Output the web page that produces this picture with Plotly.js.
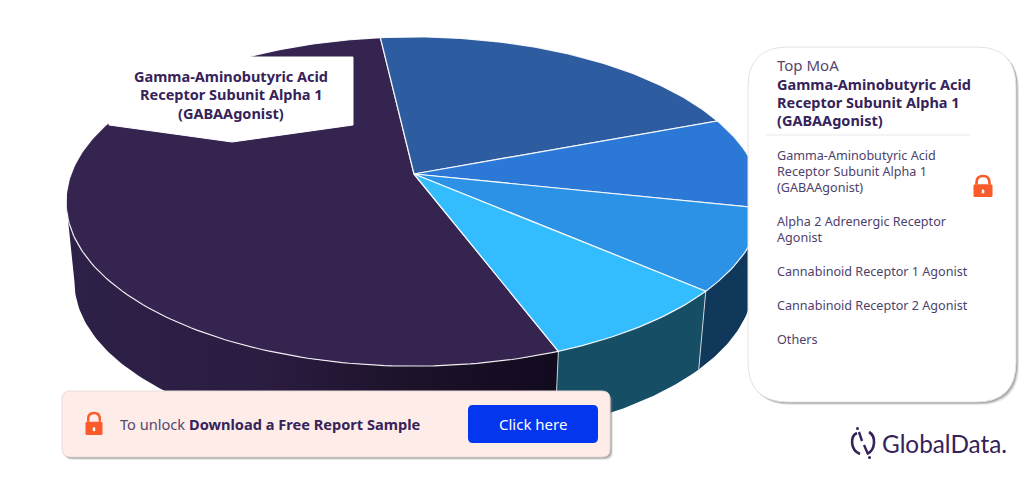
<!DOCTYPE html>
<html>
<head>
<meta charset="utf-8">
<script src="https://cdn.plot.ly/plotly-3.0.1.min.js"></script>
<style>html,body{margin:0;padding:0;background:#fff;overflow:hidden}#chart{width:1024px;height:493px}</style>
</head>
<body>
<div id="chart"></div>
<script>
// ---- data ----
const categories = ["Gamma-Aminobutyric Acid Receptor Subunit Alpha 1 (GABAAgonist)", "Alpha 2 Adrenergic Receptor Agonist", "Cannabinoid Receptor 1 Agonist", "Cannabinoid Receptor 2 Agonist", "Others"];
const shares = [53.9, 21.1, 9.0, 8.0, 7.9];
const topColors = ["#352350", "#2e5ca0", "#2c78d6", "#2c92e6", "#33bdff"];
const sideColors = ["#2a1c40", "#1c3358", "#173f78", "#10385a", "#164e66"];
const calloutLines = ["Gamma-Aminobutyric Acid", "Receptor Subunit Alpha 1", "(GABAAgonist)"];
const legendLines = [
  ["Gamma-Aminobutyric Acid", "Receptor Subunit Alpha 1", "(GABAAgonist)"],
  ["Alpha 2 Adrenergic Receptor", "Agonist"],
  ["Cannabinoid Receptor 1 Agonist"],
  ["Cannabinoid Receptor 2 Agonist"],
  ["Others"]
];
const panelTitle = "Top MoA";

// ---- projection of the tilted disc ----
const DEG = Math.PI / 180;
const startAngle = 159.2, cx = 414, cyTop = 174, cyBottom = 255, a = 343, b = 160, k = 0.1672, ringScale = 0.976;
function project(deg, bottom) {
  const c = Math.cos(deg * DEG), s = Math.sin(deg * DEG), p = 1 / (1 + k * c);
  return bottom
    ? [cx + a * ringScale * s * p, cyBottom - b * ringScale * c * p]
    : [cx + a * s * p, cyTop - b * c * p];
}
function arc(from, to, bottom) {
  const pts = [], n = Math.max(2, Math.ceil(Math.abs(to - from)));
  for (let i = 0; i <= n; i++) pts.push(project(from + (to - from) * i / n, bottom));
  return pts;
}

const total = shares.reduce((p, v) => p + v, 0);
let running = startAngle;
const slices = categories.map((name, i) => {
  const from = running, to = running + shares[i] / total * 360;
  running = to;
  return { name, from, to, i };
});

const traces = [];
// Walls are drawn first; the disc tops then cover everything behind them
const wallEndLimit = 260.4;
slices.forEach(sl => {
  const wrap = sl.from >= 360 ? 360 : 0;
  const from = sl.from - wrap, to = Math.min(sl.to - wrap, wallEndLimit);
  if (to <= from) return;
  const pts = arc(from, to, false).concat(arc(to, from, true));
  const t = {
    x: pts.map(p => p[0]), y: pts.map(p => p[1]), mode: "lines", fill: "toself",
    line: { width: 0, color: sideColors[sl.i] }, fillcolor: sideColors[sl.i],
    hoverinfo: "skip", showlegend: false, name: sl.name + " side"
  };
  if (sl.i === 0) {
    t.fillgradient = { type: "horizontal", colorscale: [[0, "#2e2147"], [0.4, "#2b1c41"], [0.7, "#1c1229"], [1, "#120a1f"]] };
    delete t.fillcolor;
  }
  traces.push(t);
});
// Seams between the walls
[slices[0].from, slices[4].from - 360].forEach(angle => {
  const top = project(angle, false), bot = project(angle, true);
  traces.push({
    x: [top[0], bot[0]], y: [top[1], bot[1]], mode: "lines",
    line: { color: "rgba(225,228,232,0.85)", width: 1 }, hoverinfo: "skip", showlegend: false
  });
});
// Disc tops
slices.forEach(sl => {
  const pts = [[cx, cyTop]].concat(arc(sl.from, sl.to, false), [[cx, cyTop]]);
  traces.push({
    x: pts.map(p => p[0]), y: pts.map(p => p[1]), mode: "lines", fill: "toself",
    fillcolor: topColors[sl.i], line: { color: "rgba(255,255,255,0.9)", width: 1.2 },
    hoverinfo: "skip", showlegend: false, name: sl.name
  });
});

// ---- furniture ----
function rr(x0, y0, x1, y1, r) {
  return `M${x0 + r},${y0} L${x1 - r},${y0} Q${x1},${y0} ${x1},${y0 + r} L${x1},${y1 - r} Q${x1},${y1} ${x1 - r},${y1} L${x0 + r},${y1} Q${x0},${y1} ${x0},${y1 - r} L${x0},${y0 + r} Q${x0},${y0} ${x0 + r},${y0} Z`;
}
function boxShape(path, fill, line, width) {
  return { type: "path", xref: "x", yref: "y", layer: "above", path, fillcolor: fill, line: { color: line || fill, width: width === undefined ? 0 : width } };
}
function shadow(x0, y0, x1, y1, r) {
  return [
    boxShape(rr(x0 + 3, y0 + 3, x1 + 3, y1 + 3, r), "rgba(120,120,120,0.18)"),
    boxShape(rr(x0 + 2, y0 + 2, x1 + 2, y1 + 2, r), "rgba(120,120,120,0.35)"),
    boxShape(rr(x0 + 1, y0 + 1, x1 + 1, y1 + 1, r), "rgba(120,120,120,0.45)")
  ];
}
function lock(mx, top, w, h) {
  const hw = w / 2, bodyTop = top + h * 0.42, bottom = top + h, archR = hw * 0.68;
  return [
    { type: "path", xref: "x", yref: "y", layer: "above", line: { color: "#f95b2b", width: w * 0.14 },
      path: `M${mx - archR},${bodyTop} L${mx - archR},${top + archR + 1} Q${mx - archR},${top + 1} ${mx},${top + 1} Q${mx + archR},${top + 1} ${mx + archR},${top + archR + 1} L${mx + archR},${bodyTop}` },
    boxShape(rr(mx - hw, bodyTop, mx + hw, bottom, 1.5), "#f95b2b"),
    boxShape(rr(mx - 1.3, bodyTop + h * 0.24, mx + 1.3, bodyTop + h * 0.42, 1.2), "#ffffff")
  ];
}
const ink = "#35235a";
const shapes = [
  ...shadow(748, 47, 1016, 402, 40),
  boxShape(rr(748, 47, 1016, 402, 40), "#ffffff", "#e2e2e2", 1),
  { type: "line", xref: "x", yref: "y", layer: "above", x0: 766, x1: 970, y0: 135, y1: 135, line: { color: "#e9e9e9", width: 1 } },
  ...lock(983, 175, 19, 22),
  ...shadow(62, 391, 610, 457, 8),
  boxShape(rr(62, 391, 610, 457, 8), "#feece8", "#e8dcda", 1),
  boxShape(rr(468, 405, 598, 443, 5), "#0336ee"),
  ...lock(94, 412, 17, 23),
  boxShape("M109,57 L353,57 L353,125 L232,142 L109,125 Z", "#ffffff", "#ffffff", 1),
  // logo mark
  { type: "path", xref: "x", yref: "y", layer: "above", line: { color: ink, width: 2.6 },
    path: "M857,433 C850,436 850,450 860,454 M869,432 C876,436 876,450 867,454" },
  { type: "path", xref: "x", yref: "y", layer: "above", line: { color: ink, width: 2.4 },
    path: "M859,432 L862,441 M864,445 L868,454" },
  { type: "circle", xref: "x", yref: "y", layer: "above", x0: 856, x1: 859, y0: 427, y1: 430, fillcolor: ink, line: { width: 0 } },
  { type: "circle", xref: "x", yref: "y", layer: "above", x0: 868, x1: 871, y0: 456, y1: 459, fillcolor: ink, line: { width: 0 } }
];

const fontFamily = "'Noto Sans', sans-serif";
function note(text, x, y, size, color, anchor, family) {
  return { text, x, y, xref: "x", yref: "y", showarrow: false, xanchor: anchor || "left", yanchor: "middle",
    font: { size, color, family: family || fontFamily }, borderpad: 0 };
}
const annotations = [];
const calloutY = [76, 94, 113];
calloutLines.forEach((line, i) => annotations.push(note(`<b>${line}</b>`, 231, calloutY[i], 14.5, ink, "center")));
annotations.push(note(panelTitle, 776, 65, 15, "#54476e"));
const headY = [84, 102, 120];
legendLines[0].forEach((line, i) => annotations.push(note(`<b>${line}</b>`, 776, headY[i], 14.5, ink)));
const itemY = [[155, 171, 187], [221, 237], [271], [305], [339]];
legendLines.forEach((lines, i) => lines.forEach((line, j) => annotations.push(note(line, 776, itemY[i][j], 12.6, "#4d3f6e"))));
annotations.push(note(`To unlock <b style="color:${ink}">Download a Free Report Sample</b>`, 119, 423.5, 14.6, "#54476e"));
annotations.push(note("Click here", 533, 423.5, 15, "#ffffff", "center"));
annotations.push(note("GlobalData.", 881, 443, 24.3, ink, "left", "Lato, sans-serif"));

const hidden = { visible: false, fixedrange: true };
Plotly.newPlot("chart", traces, {
  width: 1024, height: 493,
  margin: { l: 0, r: 0, t: 0, b: 0, pad: 0 },
  paper_bgcolor: "#ffffff", plot_bgcolor: "#ffffff",
  xaxis: Object.assign({ range: [0, 1024] }, hidden),
  yaxis: Object.assign({ range: [493, 0] }, hidden),
  showlegend: false, shapes, annotations
}, { displayModeBar: false, staticPlot: true });
</script>
</body>
</html>
